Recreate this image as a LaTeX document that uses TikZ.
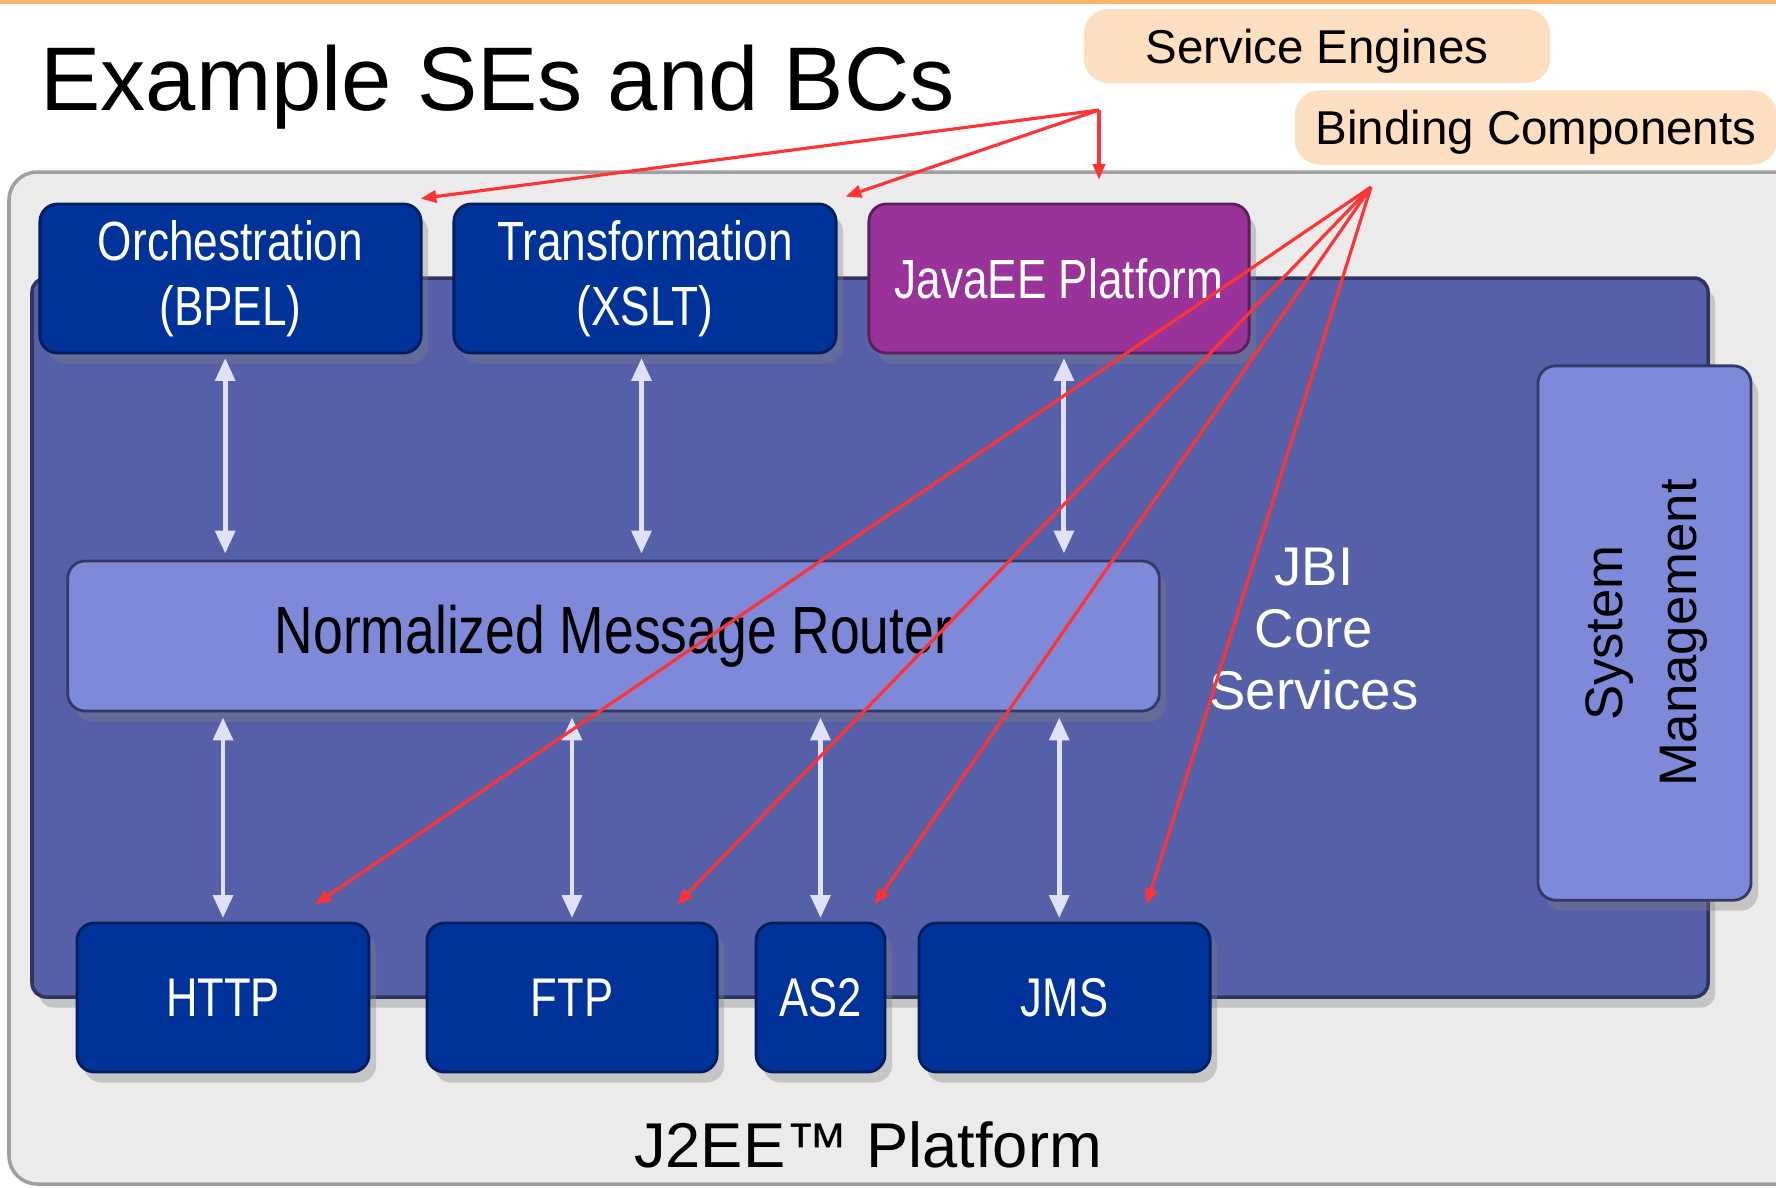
\documentclass[tikz,border=0pt]{standalone}
\usepackage{fontspec}
\setmainfont{Liberation Sans}
\newfontfamily\narrowfont[FakeStretch=0.8]{Liberation Sans}
\usetikzlibrary{arrows.meta,shadows}

\definecolor{jbiblue}{RGB}{86,96,168}
\definecolor{boxblue}{RGB}{0,51,153}
\definecolor{boxpurple}{RGB}{153,51,153}
\definecolor{routerblue}{RGB}{127,137,217}
\definecolor{platgray}{RGB}{235,235,235}
\definecolor{peach}{RGB}{252,222,192}
\definecolor{arrowred}{RGB}{255,51,51}
\definecolor{busarrow}{RGB}{224,224,248}

\begin{document}
\begin{tikzpicture}[x=0.01cm,y=-0.01cm,
  comp/.style={rounded corners=5pt,draw=boxblue!60!black,line width=0.8pt,fill=boxblue,
    text=white,align=center,minimum height=1.49cm,inner sep=0pt,
    font=\narrowfont\fontsize{15.7}{18.5}\selectfont,
    drop shadow={shadow xshift=2pt,shadow yshift=-3pt,opacity=0.35}},
  router/.style={rounded corners=5pt,draw=jbiblue!60!black,line width=0.8pt,fill=routerblue,
    align=center,inner sep=0pt,
    drop shadow={shadow xshift=2pt,shadow yshift=-3pt,opacity=0.35}},
  tag/.style={rounded corners=7pt,fill=peach,minimum height=0.74cm,inner sep=0pt,text depth=0pt,
    font=\fontsize{13.5}{16}\selectfont,
    path picture={\draw[orange!25,line width=0.25pt,step=0.05cm]
      (path picture bounding box.south west) grid (path picture bounding box.north east);}},
  bus/.style={{Triangle[length=6.5pt,width=5.5pt]}-{Triangle[length=6.5pt,width=5.5pt]},
    color=busarrow,line width=1.4pt},
  ptr/.style={-{Triangle[length=4.5pt,width=3.5pt]},color=arrowred,line width=0.9pt}]

\useasboundingbox (0,0) rectangle (1776,1187);

\draw[orange!60,line width=1.5pt] (0,1) to (1776,1);
\filldraw[draw=gray!75,fill=platgray,line width=1pt,rounded corners=8pt] (9,172) rectangle (1830,1184);
\filldraw[draw=jbiblue!55!black,fill=jbiblue,line width=1pt,rounded corners=4pt,
  drop shadow={shadow xshift=2pt,shadow yshift=-3pt,opacity=0.35}] (32,278) rectangle (1708,997);

\node[anchor=base west,font=\fontsize{25.7}{30}\selectfont] (title) at (28,110) {Example SEs and BCs};
\node[tag,minimum width=4.66cm] (se) at (1317,46) {Service Engines};
\node[tag,minimum width=4.82cm] (bc) at (1536,127.5) {Binding Components};

%%%%%%%%%%%%%%%%%%%%%%%%%%%%%%%%%%%%%%%%%%%%
\node[comp,minimum width=3.81cm] (orch) at (230.5,278.5) {Orchestration\\(BPEL)};
\node[comp,minimum width=3.82cm] (trans) at (645,278.5) {Transformation\\(XSLT)};
\node[comp,minimum width=3.8cm,fill=boxpurple,draw=boxpurple!60!black] (javaee) at (1059,278.5) {JavaEE Platform};

\node[router,minimum width=10.91cm,minimum height=1.5cm,
  font=\narrowfont\fontsize{19}{22}\selectfont] (nmr) at (613.5,636) {Normalized Message Router};
\node[router,minimum width=2.13cm,minimum height=5.34cm,
  font=\fontsize{15}{21}\selectfont] (sysmgmt) at (1644.5,633)
  {\rotatebox{90}{\begin{tabular}{@{}c@{}}System\\Management\end{tabular}}};
\node[text=white,align=center,font=\fontsize{15.5}{17.7}\selectfont] (jbicore) at (1314,629) {JBI\\Core\\Services};

\node[comp,minimum width=2.92cm,font=\narrowfont\fontsize{15.5}{18}\selectfont] (http) at (223,997.5) {HTTP};
\node[comp,minimum width=2.9cm,font=\narrowfont\fontsize{15.5}{18}\selectfont] (ftp) at (572,997.5) {FTP};
\node[comp,minimum width=1.29cm,font=\narrowfont\fontsize{15.5}{18}\selectfont] (as2) at (820.5,997.5) {AS2};
\node[comp,minimum width=2.91cm,font=\narrowfont\fontsize{15.5}{18}\selectfont] (jms) at (1064.5,997.5) {JMS};

\node[anchor=base,font=\fontsize{18}{22}\selectfont] (j2ee) at (868,1167) {J2EE™ Platform};

%%%%%%%%%%%%%%%%%%%%%%%%%%%%%%%%%%%%%%%%%%%%
\draw[bus,shorten <=1pt,shorten >=1.7pt] ([xshift=-1.5pt]orch.south) to ([xshift=-1.5pt]orch.south |- nmr.north);
\draw[bus,shorten <=1pt,shorten >=1.7pt] ([xshift=-1pt]trans.south) to ([xshift=-1pt]trans.south |- nmr.north);
\draw[bus,shorten <=1pt,shorten >=1.7pt] ([xshift=1.4pt]javaee.south) to ([xshift=1.4pt]javaee.south |- nmr.north);

\draw[bus,shorten <=1pt,shorten >=1.4pt] (http.north) to (http.north |- nmr.south);
\draw[bus,shorten <=1pt,shorten >=1.4pt] (ftp.north) to (ftp.north |- nmr.south);
\draw[bus,shorten <=1pt,shorten >=1.4pt] (as2.north) to (as2.north |- nmr.south);
\draw[bus,shorten <=1pt,shorten >=1.4pt] ([xshift=-1.5pt]jms.north) to ([xshift=-1.5pt]jms.north |- nmr.south);

%%%%%%%%%%%%%%%%%%%%%%%%%%%%%%%%%%%%%%%%%%%%
\coordinate (sefrom) at (1099,110);
\coordinate (bcfrom) at (1371,187);

\draw[ptr] (sefrom) to ([shift={(-2,-4)}]orch.north east);
\draw[ptr] (sefrom) to ([shift={(8,-6)}]trans.north east);
\draw[ptr,shorten >=6.5pt] (sefrom) to (sefrom |- javaee.north);

\draw[ptr] (bcfrom) to ([shift={(92,-17)}]http.north);
\draw[ptr] (bcfrom) to ([shift={(105,-17)}]ftp.north);
\draw[ptr] (bcfrom) to ([shift={(54,-17)}]as2.north);
\draw[ptr] (bcfrom) to ([shift={(82,-17)}]jms.north);

\end{tikzpicture}
\end{document}
